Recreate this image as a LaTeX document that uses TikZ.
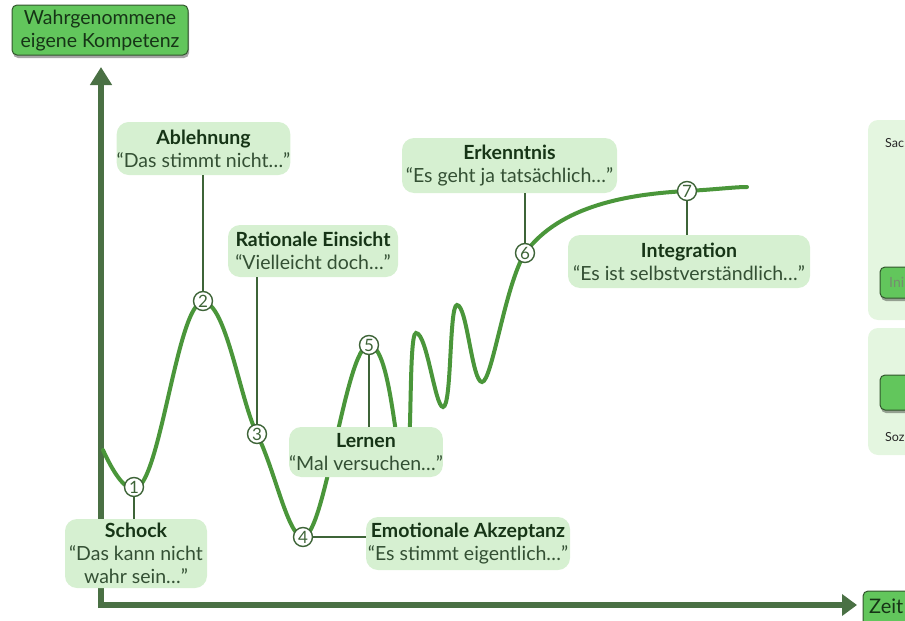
\documentclass[tikz,border=0pt]{standalone}
\usepackage{fontspec}
\setmainfont{Lato}
\usetikzlibrary{arrows.meta,shadows}

\definecolor{curvegreen}{RGB}{74,150,58}
\definecolor{axisgreen}{RGB}{74,112,68}
\definecolor{boxfill}{RGB}{214,240,209}
\definecolor{panelfill}{RGB}{228,246,224}
\definecolor{btnfill}{RGB}{98,198,92}
\definecolor{btnedge}{RGB}{50,85,45}
\definecolor{headtext}{RGB}{22,52,22}
\definecolor{quotetext}{RGB}{52,80,52}
\definecolor{linkgreen}{RGB}{62,100,56}
\definecolor{fainttext}{RGB}{118,140,112}

\newcommand{\phase}[2]{{\fontsize{19.5}{23}\selectfont\bfseries\color{headtext}#1}\\#2}

\begin{document}
\begin{tikzpicture}[x=1pt,y=-1pt,
  labelbox/.style={fill=boxfill, rounded corners=12pt, inner sep=0pt, align=center,
    text=quotetext, font=\fontsize{19.5}{23}\selectfont},
  marker/.style={circle, draw=linkgreen, fill=white, line width=1.4pt, minimum size=19pt,
    inner sep=0pt, font=\fontsize{17}{17}\selectfont, text=linkgreen},
  link/.style={draw=linkgreen, line width=1.5pt},
  curve/.style={draw=curvegreen, line width=4pt, line cap=round},
  axis/.style={draw=axisgreen, line width=6pt},
  button/.style={fill=btnfill, draw=btnedge, line width=1pt, rounded corners=5pt,
    drop shadow={shadow xshift=1pt, shadow yshift=-3pt, opacity=0.35, fill=black}},
  panel/.style={fill=panelfill, rounded corners=10pt}
]
\useasboundingbox (0,0) rectangle (905,621);
\begin{scope}
\clip (0,0) rectangle (905,621);

% side panels, partly outside the frame
\path[panel] (868,120) rectangle (940,320);
\path[panel] (868,328) rectangle (940,455);
\node[anchor=west, inner sep=0pt, font=\fontsize{12.5}{12.5}\selectfont, text=black!85] (sach) at (885,143) {Sac};
\path[button] (880,267) rectangle (950,298);
\node[anchor=west, inner sep=0pt, font=\fontsize{14}{14}\selectfont, text=fainttext] (ini) at (889,282.5) {Ini};
\path[button] (880,375) rectangle (950,410);
\node[anchor=west, inner sep=0pt, font=\fontsize{12.5}{12.5}\selectfont, text=black!85] (soz) at (885,437) {Soz};

% axes
\coordinate (ybase) at (101,608);
\coordinate (ytip) at (101,67);
\coordinate (xbase) at (98,605);
\coordinate (xtip) at (857,605);
\draw[axis, -{Triangle[length=18pt,width=21pt]}] (ybase) -- (ytip);
\draw[axis, -{Triangle[length=15pt,width=21pt]}] (xbase) -- (xtip);

% axis labels
\path[button] (12,5) rectangle (188,55);
\node[align=center, inner sep=0pt, text=headtext, font=\fontsize{19.5}{23}\selectfont] (kompetenz) at (100,30.5) {Wahrgenommene\\eigene Kompetenz};
\path[button] (863,591) rectangle (950,626);
\node[anchor=west, inner sep=0pt, text=headtext, font=\fontsize{20}{20}\selectfont] (zeit) at (869,606) {Zeit};

% change curve
\draw[curve] (103,450) .. controls (113,472) and (124,489) .. (134,489)
  .. controls (160,489) and (177,302) .. (203,302)
  .. controls (226,302) and (240,400) .. (257,434)
  .. controls (275,470) and (288,537) .. (303,537)
  .. controls (325,537) and (346,345) .. (369,345)
  .. controls (392,345) and (396,470) .. (405,470)
  .. controls (413,470) and (408,333) .. (416,333)
  .. controls (427,333) and (435,407) .. (443,407)
  .. controls (452,407) and (449,305) .. (457,305)
  .. controls (467,305) and (472,382) .. (482,382)
  .. controls (492,382) and (505,285) .. (525,253)
  .. controls (560,205) and (630,194) .. (687,191)
  .. controls (715,189.5) and (735,187) .. (747,187);

% phase labels
\node[labelbox, minimum width=142pt, minimum height=69pt] (schock) at (136,553.5)
  {\phase{Schock}{“Das kann nicht\\wahr sein…”}};
\node[labelbox, minimum width=173pt, minimum height=53pt] (ablehnung) at (203.5,148.5)
  {\phase{Ablehnung}{“Das stimmt nicht…”}};
\node[labelbox, minimum width=170pt, minimum height=52pt] (einsicht) at (313,251)
  {\phase{Rationale Einsicht}{“Vielleicht doch…”}};
\node[labelbox, minimum width=148pt, minimum height=50pt] (lernen) at (366,452)
  {\phase{Lernen}{“Mal versuchen…”}};
\node[labelbox, minimum width=204pt, minimum height=53pt] (akzeptanz) at (468,543.5)
  {\phase{Emotionale Akzeptanz}{“Es stimmt eigentlich…”}};
\node[labelbox, minimum width=215pt, minimum height=55pt] (erkenntnis) at (509.5,165.5)
  {\phase{Erkenntnis}{“Es geht ja tatsächlich…”}};
\node[labelbox, minimum width=242pt, minimum height=53pt] (integration) at (689,261.5)
  {\phase{Integration}{“Es ist selbstverständlich…”}};

% numbered markers
\node[marker] (m1) at (134,487) {1};
\node[marker] (m2) at (203,301) {2};
\node[marker] (m3) at (257,434) {3};
\node[marker] (m4) at (303,537) {4};
\node[marker] (m5) at (369,345) {5};
\node[marker] (m6) at (525,253) {6};
\node[marker] (m7) at (687,191) {7};

% leaders from markers to labels
\draw[link] (m1.south) -- (m1.south |- schock.north);
\draw[link] (m2.north) -- (m2.north |- ablehnung.south);
\draw[link] (m3.north) -- (m3.north |- einsicht.south);
\draw[link] (m4.east) -- (m4.east -| akzeptanz.west);
\draw[link] (m5.south) -- (m5.south |- lernen.north);
\draw[link] (m6.north) -- (m6.north |- erkenntnis.south);
\draw[link] (m7.south) -- (m7.south |- integration.north);
\end{scope}
\end{tikzpicture}
\end{document}
